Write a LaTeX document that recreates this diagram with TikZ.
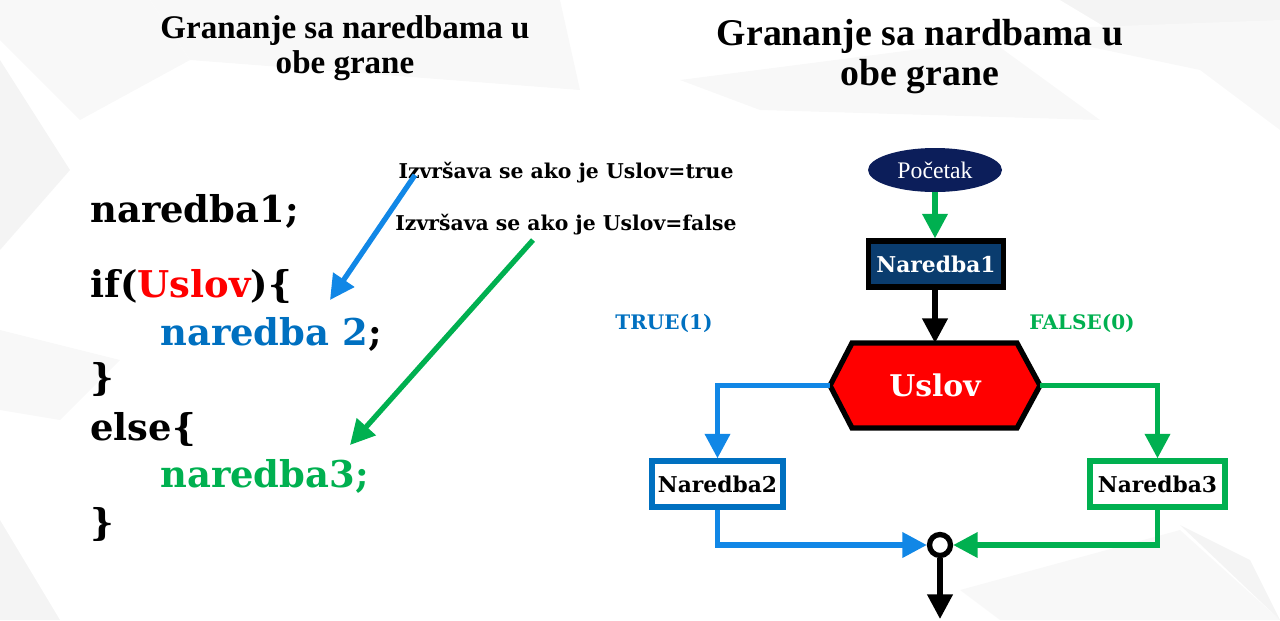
\documentclass[tikz,border=0pt]{standalone}
\usepackage{fontspec}
\setmainfont{DejaVu Serif}
\newfontfamily\libserif{Liberation Serif}
\usetikzlibrary{arrows.meta,calc,shapes.geometric}
\definecolor{cblue}{RGB}{17,135,230}
\definecolor{dblue}{RGB}{0,112,192}
\definecolor{cgreen}{RGB}{0,176,80}
\definecolor{cred}{RGB}{255,0,0}
\definecolor{navy}{RGB}{12,30,90}
\definecolor{boxblue}{RGB}{10,60,110}
\definecolor{bgA}{RGB}{248,248,248}
\definecolor{bgB}{RGB}{244,244,244}
\tikzset{
  px/.style={x=0.02cm,y=-0.02cm},
  tip/.style={-{Triangle[length=14pt,width=14pt]}},
  code/.style={anchor=base west,inner sep=0pt,font=\fontsize{21}{21}\selectfont\bfseries},
  note/.style={anchor=base,inner sep=0pt,font=\fontsize{11.6}{13}\selectfont\bfseries},
  title/.style={anchor=base,inner sep=0pt,font=\libserif\bfseries},
  stmt/.style={draw,line width=3pt,minimum width=2.65cm,minimum height=0.92cm,inner sep=0pt,font=\fontsize{12.4}{14}\selectfont\bfseries},
}
\begin{document}
\begin{tikzpicture}[px]
\useasboundingbox (0,0) rectangle (1280,620);
% background polygons
\fill[bgA] (0,0) -- (150,0) -- (190,60) -- (80,120) -- (0,40) -- cycle;
\fill[bgB] (0,60) -- (70,170) -- (0,250) -- cycle;
\fill[bgA] (150,0) -- (560,0) -- (580,90) -- (190,60) -- cycle;
\fill[bgA] (680,80) -- (990,40) -- (1100,120) -- (760,110) -- cycle;
\fill[bgB] (1060,0) -- (1280,0) -- (1280,80) -- (1160,60) -- cycle;
\fill[bgA] (1010,30) -- (1200,70) -- (1280,130) -- (1280,20) -- cycle;
\fill[bgA] (0,330) -- (120,360) -- (60,420) -- (0,410) -- cycle;
\fill[bgB] (0,520) -- (60,620) -- (0,620) -- cycle;
\fill[bgA] (960,590) -- (1180,530) -- (1280,620) -- (1000,620) -- cycle;
\fill[bgB] (1180,525) -- (1250,560) -- (1280,620) -- cycle;

% titles
\node[title,font=\libserif\bfseries\fontsize{18.8}{20}\selectfont] (t1a) at (345,38) {Grananje sa naredbama u};
\node[title,font=\libserif\bfseries\fontsize{18.8}{20}\selectfont] (t1b) at (345,73) {obe grane};
\node[title,font=\libserif\bfseries\fontsize{21.5}{23}\selectfont] (t2a) at (920,45) {Grananje sa nardbama u};
\node[title,font=\libserif\bfseries\fontsize{21.5}{23}\selectfont] (t2b) at (920,85) {obe grane};

% code
\node[code] (c1) at (90,222) {naredba1;};
\node[code] (c2) at (90,297) {if(\textcolor{cred}{Uslov})\{};
\node[code] (c3) at (160,345) {\textcolor{dblue}{naredba 2};};
\node[code] (c4) at (90,390) {\}};
\node[code] (c5) at (90,440) {else\{};
\node[code] (c6) at (160,487) {\textcolor{cgreen}{naredba3;}};
\node[code] (c7) at (90,535) {\}};

% notes
\node[note] (n1) at (566,178) {Izvršava se ako je Uslov=true};
\node[note] (n2) at (566,230) {Izvršava se ako je Uslov=false};
\coordinate (a1s) at (415,175);
\coordinate (a1e) at (330,300);
\coordinate (a2s) at (533,240);
\coordinate (a2e) at (350,445);
\draw[cblue,line width=3pt,tip] (a1s) -- (a1e);
\draw[cgreen,line width=3pt,tip] (a2s) -- (a2e);

% flowchart
\node[ellipse,fill=navy,minimum width=2.68cm,minimum height=0.88cm,inner sep=0pt,text=white,font=\libserif\fontsize{13.5}{15}\selectfont] (start) at (935,170) {Početak};
\node[stmt,fill=boxblue,text=white,minimum width=2.7cm] (n1box) at (936,264) {Naredba1};
\coordinate (U) at (935,385.5);
\draw[line width=3pt,fill=cred,line join=miter]
  ($(U)+(-105,0)$) coordinate (uL) -- ($(U)+(-83,-42.5)$) -- ($(U)+(82,-42.5)$) coordinate (uT) -- ($(U)+(105,0)$) coordinate (uR)
  -- ($(U)+(82,42.5)$) -- ($(U)+(-83,42.5)$) -- cycle;
\node[inner sep=0pt,text=white,font=\fontsize{17}{19}\selectfont\bfseries] (uslov) at (U) {Uslov};
\coordinate (uTop) at ($(U)+(0,-42.5)$);
\node[stmt,draw=dblue,fill=white,minimum width=2.62cm] (n2box) at (717.5,484) {Naredba2};
\node[stmt,draw=cgreen,fill=white,minimum width=2.7cm] (n3box) at (1157.5,484) {Naredba3};
\node[circle,draw,line width=3pt,fill=white,minimum size=0.42cm,inner sep=0pt] (join) at (940,545) {};
\coordinate (endpt) at (940,619);

\node[anchor=base,inner sep=0pt,text=dblue,font=\fontsize{11.4}{13}\selectfont\bfseries] (tl) at (664,329) {TRUE(1)};
\node[anchor=base,inner sep=0pt,text=cgreen,font=\fontsize{11.4}{13}\selectfont\bfseries] (fl) at (1082,329) {FALSE(0)};

\draw[cgreen,line width=3pt,tip] (start) -- (start |- n1box.north);
\draw[black,line width=3pt,tip] (n1box.south -| uTop) -- (uTop);
\draw[cblue,line width=3pt,tip] (uL) -| (n2box.north);
\draw[cgreen,line width=3pt,tip] (uR) -| (n3box.north);
\draw[cblue,line width=3pt,tip] (n2box.south) |- (join.west);
\draw[cgreen,line width=3pt,tip] (n3box.south) |- (join.east);
\draw[black,line width=3pt,tip] (join.south) -- (endpt);
\end{tikzpicture}
\end{document}
